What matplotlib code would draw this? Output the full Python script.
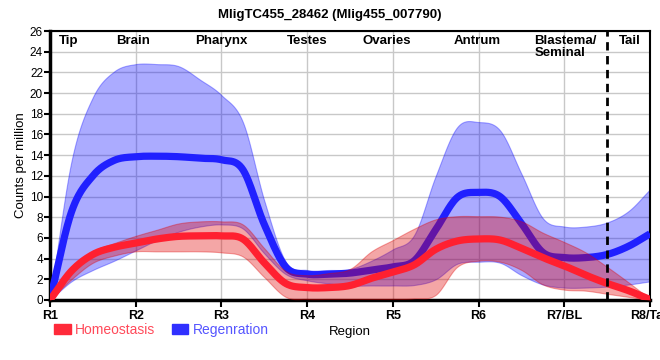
import numpy as np
import matplotlib
matplotlib.use("Agg")
import matplotlib.pyplot as plt
from matplotlib.patches import Patch

plt.rcParams["font.family"] = ["Liberation Sans", "DejaVu Sans"]

# values, one point every quarter region
pos = np.arange(29) * 0.25

regen_mean = [0, 8.5, 12.0, 13.5, 13.85, 13.9, 13.85, 13.7, 13.55, 12.6, 7.3, 3.2,
              2.5, 2.5, 2.6, 2.9, 3.2, 3.8, 6.8, 9.9, 10.4, 10.0, 7.4, 4.6,
              4.1, 4.1, 4.4, 5.2, 6.4]
regen_hi = [0, 13.4, 19.6, 22.1, 22.8, 22.8, 22.6, 21.3, 19.8, 17.2, 9.6, 3.7,
            2.9, 2.9, 3.0, 3.8, 4.9, 6.3, 12.0, 16.7, 17.2, 16.4, 12.2, 7.9,
            7.1, 7.1, 7.5, 8.6, 10.7]
regen_lo = [0, 1.8, 2.9, 3.8, 4.8, 5.8, 6.6, 7.1, 7.3, 6.9, 4.5, 2.5,
            1.9, 1.6, 1.4, 1.4, 1.4, 1.45, 2.0, 3.5, 3.7, 3.6, 2.4, 1.5,
            1.2, 1.2, 1.3, 1.5, 1.8]

homeo_mean = [0, 2.8, 4.4, 5.1, 5.5, 5.9, 6.15, 6.2, 6.2, 5.9, 3.6, 1.6,
              1.2, 1.2, 1.4, 2.1, 2.7, 3.4, 4.9, 5.7, 5.9, 5.8, 5.0, 4.1,
              3.3, 2.4, 1.6, 0.9, 0.05]
homeo_hi = [0, 2.9, 4.7, 5.5, 6.2, 6.8, 7.4, 7.6, 7.6, 7.3, 5.0, 2.8,
            2.4, 2.6, 3.0, 4.7, 5.8, 6.9, 7.8, 8.1, 8.1, 8.05, 7.6, 6.5,
            5.6, 4.6, 3.2, 1.7, 0.1]
homeo_lo = [0, 2.0, 3.6, 4.3, 4.7, 4.7, 4.7, 4.7, 4.6, 4.2, 2.2, 0.3,
            0.1, 0.1, 0.1, 0.1, 0.1, 0.15, 0.5, 3.2, 3.8, 3.7, 2.9, 1.5,
            1.0, 0.9, 0.6, 0.3, 0.0]

tick_labels = ["R1", "R2", "R3", "R4", "R5", "R6", "R7/BL", "R8/Tail"]
regions = ["Tip", "Brain", "Pharynx", "Testes", "Ovaries", "Antrum", "Blastema/\nSeminal", "Tail"]
region_pos = [0.22, 0.97, 2.0, 3.0, 3.93, 4.98, 5.65, 6.77]


def smooth(x, y, xs):
    # catmull-rom style cubic, only used to draw a smooth path through the readings
    x = np.asarray(x, float)
    y = np.asarray(y, float)
    h = np.diff(x)
    m = np.empty_like(y)
    m[1:-1] = (y[2:] - y[:-2]) / (x[2:] - x[:-2])
    m[0] = (y[1] - y[0]) / h[0]
    m[-1] = (y[-1] - y[-2]) / h[-1]
    i = np.clip(np.searchsorted(x, xs) - 1, 0, len(x) - 2)
    t = (xs - x[i]) / h[i]
    h00 = 2 * t**3 - 3 * t**2 + 1
    h10 = t**3 - 2 * t**2 + t
    h01 = -2 * t**3 + 3 * t**2
    h11 = t**3 - t**2
    out = h00 * y[i] + h10 * h[i] * m[i] + h01 * y[i + 1] + h11 * h[i] * m[i + 1]
    return np.clip(out, 0, None)


xs = np.linspace(0, 7, 700)
sm = lambda v: smooth(pos, v, xs)

fig = plt.figure(figsize=(6.6, 3.6), dpi=100)
ax = fig.add_axes([50 / 660, 60 / 360, 600 / 660, 269 / 360])

blue = "#2020ff"
red = "#ff2030"

ax.fill_between(xs, sm(regen_lo), sm(regen_hi), color="#0000ff", alpha=0.33, lw=0.8, zorder=2)
ax.plot(xs, sm(regen_mean), color=blue, lw=5.2, solid_capstyle="butt", zorder=3)
ax.fill_between(xs, sm(homeo_lo), sm(homeo_hi), color="#e00000", alpha=0.35, lw=0.8, zorder=4)
ax.plot(xs, sm(homeo_mean), color=red, lw=5.2, solid_capstyle="butt", zorder=5)

ax.axvline(6.5, color="black", lw=2, ls=(0, (3, 2)), zorder=6)

ax.set_xlim(0, 7)
ax.set_ylim(0, 26)
ax.set_xticks(range(8))
ax.set_xticklabels(tick_labels, fontsize=9, fontweight="bold")
ax.set_yticks(range(0, 27, 2))
ax.tick_params(axis="y", labelsize=8.5, length=4, width=1.5, pad=1)
ax.tick_params(axis="x", length=5, width=1.5, pad=2)
ax.grid(True, color="#c8c8c8", lw=1, zorder=0)
ax.set_axisbelow(True)
for side in ["left", "bottom"]:
    ax.spines[side].set_linewidth(2.5)
for side in ["top", "right"]:
    ax.spines[side].set_linewidth(1.5)

for name, xp in zip(regions, region_pos):
    ha = "left" if "/" in name else "center"
    ax.text(xp, 25.6, name, ha=ha, va="top", fontsize=9.5, fontweight="bold", linespacing=1.0, zorder=7)

ax.set_ylabel("Counts per million", fontsize=9.5, labelpad=2)
ax.set_xlabel("Region", fontsize=9.5, labelpad=3)
fig.text(0.5, 0.975, "MligTC455_28462 (Mlig455_007790)", ha="center", va="top",
         fontsize=9.5, fontweight="bold")

handles = [Patch(color="#ff2a3a"), Patch(color="#3030ff")]
fig.legend(handles, ["Homeostasis", "Regenration"], loc="lower left",
           bbox_to_anchor=(0.063, 0.03), ncol=2, frameon=False, fontsize=10,
           handlelength=1.2, handleheight=0.8, handletextpad=0.3, columnspacing=1.2,
           labelcolor=["#ff4a5a", "#5555ff"])

fig.savefig("out.png", dpi=100)
